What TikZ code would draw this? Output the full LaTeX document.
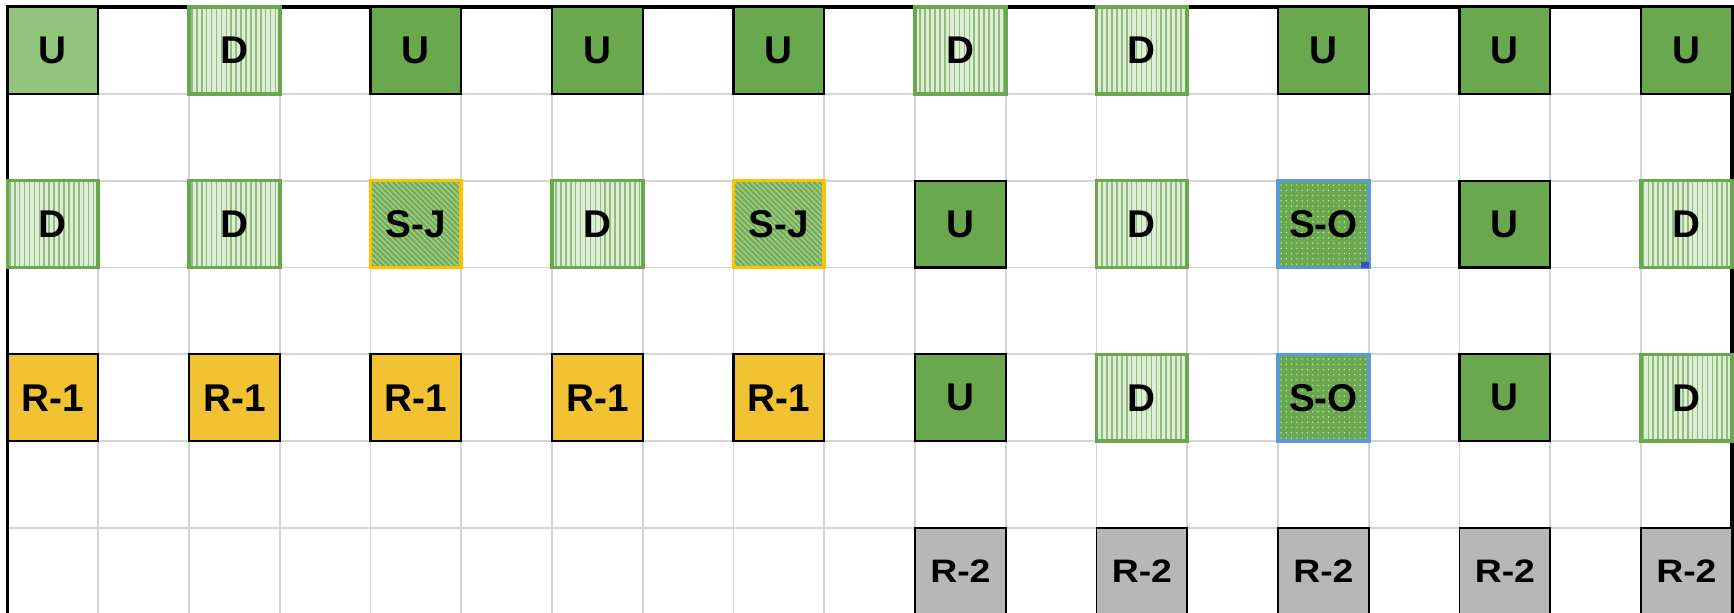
\documentclass[tikz,border=0pt]{standalone}
\usepackage{fontspec}
\setmainfont{Liberation Sans}
\newfontfamily\widefont[FakeStretch=1.15]{Liberation Sans}
\usepackage{tikz}
\usetikzlibrary{patterns.meta}

\definecolor{upLight}{HTML}{93C47D}
\definecolor{upDark}{HTML}{6AA84F}
\definecolor{downFill}{HTML}{DDEDD6}
\definecolor{downLine}{HTML}{93BD7E}
\definecolor{joinFill}{HTML}{74AD57}
\definecolor{joinLine}{HTML}{A8D08F}
\definecolor{joinEdge}{HTML}{FFC000}
\definecolor{omitEdge}{HTML}{5B9BD5}
\definecolor{omitDot}{HTML}{C9E4B8}
\definecolor{handleBlue}{HTML}{3F51B5}
\definecolor{resOne}{HTML}{F1C232}
\definecolor{resTwo}{HTML}{B7B7B7}
\definecolor{gridGray}{HTML}{D4D4D4}

\begin{document}
\begin{tikzpicture}[
    x=1.815cm, y=-1.7367cm,
    cell/.style={minimum width=1.815cm, minimum height=1.7367cm, inner sep=0pt, outer sep=0pt,
        font=\fontsize{22}{24}\selectfont\bfseries},
    ucell/.style={cell, fill=upDark, draw=black, line width=1.2pt},
    ulight/.style={ucell, fill=upLight},
    dcell/.style={cell, preaction={fill=downFill}, pattern={Lines[angle=90, distance=2.8pt, line width=0.9pt]},
        pattern color=downLine, draw=upDark, line width=2pt},
    jcell/.style={cell, preaction={fill=joinFill}, pattern={Lines[angle=-45, distance=2.2pt, line width=0.7pt]},
        pattern color=joinLine, draw=joinEdge, line width=2pt},
    ocell/.style={cell, preaction={fill=upDark}, pattern={Dots[distance=3pt, radius=0.45pt]},
        pattern color=omitDot, draw=omitEdge, line width=2pt},
    rone/.style={cell, fill=resOne, draw=black, line width=1.2pt},
    rtwo/.style={cell, fill=resTwo, draw=black, line width=0.9pt,
        font=\widefont\fontsize{18.5}{20}\selectfont\bfseries},
    gridline/.style={draw=gridGray, line width=1.1pt},
    frame/.style={draw=black, line width=2pt}
]
\useasboundingbox (-0.0826,-0.0806) rectangle (19.025,6.968);

% sheet grid
\foreach \c in {1,...,18}
    \draw[gridline] (\c,0) -- (\c,7.2);
\foreach \r in {1,...,6}
    \draw[gridline] (0,\r) -- (19,\r);
\draw[frame] (0,7.2) -- (0,0) -- (19,0) -- (19,7.2);

% row 0
\foreach \c/\s/\t in {0/ulight/U, 2/dcell/D, 4/ucell/U, 6/ucell/U, 8/ucell/U,
                      10/dcell/D, 12/dcell/D, 14/ucell/U, 16/ucell/U, 18/ucell/U}
    \node[\s] (r0c\c) at (\c+0.5,0.5) {\t};

% row 2
\foreach \c/\s/\t in {0/dcell/D, 2/dcell/D, 4/jcell/S-J, 6/dcell/D, 8/jcell/S-J,
                      10/ucell/U, 12/dcell/D, 14/ocell/S-O, 16/ucell/U, 18/dcell/D}
    \node[\s] (r2c\c) at (\c+0.5,2.5) {\t};

% row 4
\foreach \c/\s/\t in {0/rone/R-1, 2/rone/R-1, 4/rone/R-1, 6/rone/R-1, 8/rone/R-1,
                      10/ucell/U, 12/dcell/D, 14/ocell/S-O, 16/ucell/U, 18/dcell/D}
    \node[\s] (r4c\c) at (\c+0.5,4.5) {\t};

% row 6
\foreach \c in {10,12,...,18}
    \node[rtwo] (r6c\c) at (\c+0.5,6.5) {R-2};

% selection handle
\fill[handleBlue] ([xshift=-0.16cm,yshift=0.12cm]r2c14.south east) rectangle (r2c14.south east);
\end{tikzpicture}
\end{document}
